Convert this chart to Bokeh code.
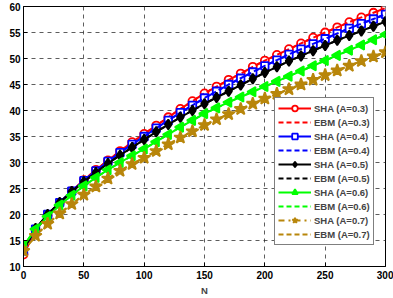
import math
from bokeh.plotting import figure
from bokeh.models import Legend, LegendItem, FixedTicker, Range1d
from bokeh.embed import file_html
from bokeh.resources import INLINE

# Number of users N (every 10 from 0 to 300)
n_vals = [0, 10, 20, 30, 40, 50, 60, 70, 80, 90, 100, 110, 120, 130, 140, 150,
          160, 170, 180, 190, 200, 210, 220, 230, 240, 250, 260, 270, 280, 290, 300]

sha_03 = [12.3, 17.0, 19.8, 22.2, 24.5, 26.6, 28.6, 30.4, 32.2, 33.9, 35.5,
          37.1, 38.7, 40.3, 41.8, 43.3, 44.6, 45.9, 47.1, 48.4, 49.6,
          50.7, 51.8, 52.9, 54.0, 55.0, 56.0, 57.0, 57.9, 58.8, 59.7]
sha_04 = [13.0, 17.2, 20.0, 22.3, 24.5, 26.5, 28.4, 30.2, 31.9, 33.5, 35.0,
          36.6, 38.1, 39.6, 41.0, 42.4, 43.7, 45.0, 46.2, 47.4, 48.6,
          49.7, 50.8, 51.8, 52.8, 53.8, 54.8, 55.8, 56.7, 57.6, 58.5]
sha_05 = [13.2, 17.3, 20.0, 22.3, 24.4, 26.3, 28.1, 29.8, 31.4, 32.9, 34.4,
          35.9, 37.3, 38.7, 40.0, 41.3, 42.5, 43.7, 44.9, 46.1, 47.3,
          48.4, 49.5, 50.5, 51.5, 52.5, 53.5, 54.4, 55.3, 56.2, 57.1]
sha_06 = [14.0, 17.2, 19.6, 21.8, 23.7, 25.5, 27.1, 28.6, 30.0, 31.3, 32.6,
          34.0, 35.4, 36.8, 38.1, 39.4, 40.5, 41.6, 42.6, 43.6, 44.6,
          45.6, 46.6, 47.6, 48.6, 49.6, 50.6, 51.6, 52.6, 53.6, 54.6]
sha_07 = [13.0, 15.9, 18.2, 20.2, 22.0, 23.8, 25.4, 26.9, 28.4, 29.7, 30.9,
          32.2, 33.5, 34.8, 36.0, 37.2, 38.3, 39.3, 40.3, 41.3, 42.3,
          43.2, 44.1, 45.0, 45.9, 46.8, 47.7, 48.6, 49.5, 50.4, 51.2]

ebm_03 = [12.3, 17.0, 19.8, 22.2, 24.5, 26.6, 28.6, 30.4, 32.2, 33.9, 35.5,
          37.1, 38.7, 40.3, 41.8, 43.3, 44.6, 45.9, 47.1, 48.4, 49.6,
          50.7, 51.8, 52.9, 54.0, 55.0, 56.0, 57.0, 57.9, 58.8, 59.7]
ebm_04 = [13.0, 17.2, 20.0, 22.3, 24.5, 26.5, 28.4, 30.2, 31.9, 33.5, 35.0,
          36.6, 38.1, 39.6, 41.0, 42.4, 43.7, 45.0, 46.2, 47.4, 48.6,
          49.7, 50.8, 51.8, 52.8, 53.8, 54.8, 55.8, 56.7, 57.6, 58.5]
ebm_05 = [13.2, 17.3, 20.0, 22.3, 24.4, 26.3, 28.1, 29.8, 31.4, 32.9, 34.4,
          35.9, 37.3, 38.7, 40.0, 41.3, 42.5, 43.7, 44.9, 46.1, 47.3,
          48.4, 49.5, 50.5, 51.5, 52.5, 53.5, 54.4, 55.3, 56.2, 57.1]
ebm_06 = [14.0, 17.2, 19.6, 21.8, 23.7, 25.5, 27.1, 28.6, 30.0, 31.3, 32.6,
          34.0, 35.4, 36.8, 38.1, 39.4, 40.5, 41.6, 42.6, 43.6, 44.6,
          45.6, 46.6, 47.6, 48.6, 49.6, 50.6, 51.6, 52.6, 53.6, 54.6]
ebm_07 = [13.0, 15.9, 18.2, 20.2, 22.0, 23.8, 25.4, 26.9, 28.4, 29.7, 30.9,
          32.2, 33.5, 34.8, 36.0, 37.2, 38.3, 39.3, 40.3, 41.3, 42.3,
          43.2, 44.1, 45.0, 45.9, 46.8, 47.7, 48.6, 49.5, 50.4, 51.2]

x_ticks = [0, 50, 100, 150, 200, 250, 300]
y_ticks = [10, 15, 20, 25, 30, 35, 40, 45, 50, 55, 60]

FONT = "Liberation Sans"

p = figure(width=393, height=298, output_backend="svg", toolbar_location=None,
           x_range=Range1d(0, 300), y_range=Range1d(10, 60),
           min_border_left=23, min_border_right=8, min_border_top=6,
           min_border_bottom=25)

p.outline_line_color = "black"
p.outline_line_width = 1

for ax in (p.xaxis[0], p.yaxis[0]):
    ax.major_label_text_font = FONT
    ax.major_label_text_font_style = "bold"
    ax.major_label_text_font_size = "10px"
    ax.major_label_text_color = "black"
    ax.axis_line_color = "black"
    ax.major_tick_in = 4
    ax.major_tick_out = 0
    ax.minor_tick_line_color = None
    ax.major_tick_line_color = "black"

p.xaxis.ticker = FixedTicker(ticks=x_ticks)
p.yaxis.ticker = FixedTicker(ticks=y_ticks)
p.xaxis.major_label_standoff = 4
p.yaxis.major_label_standoff = 3
p.xaxis.axis_label = "N"
p.xaxis.axis_label_text_font = FONT
p.xaxis.axis_label_text_font_style = "bold"
p.xaxis.axis_label_text_font_size = "9.5px"
p.xaxis.axis_label_standoff = 3

p.grid.grid_line_color = "#2a2a2a"
p.grid.grid_line_dash = "4 4"
p.grid.grid_line_width = 0.9
p.grid.grid_line_alpha = 0.85

BROWN = "#b8860b"
series = [
    ("SHA (A=0.3)", sha_03, "EBM (A=0.3)", ebm_03, "#ff0000", "circle", 8, 0, "solid", "white"),
    ("SHA (A=0.4)", sha_04, "EBM (A=0.4)", ebm_04, "#0000ff", "square", 7.5, 0, "solid", "white"),
    ("SHA (A=0.5)", sha_05, "EBM (A=0.5)", ebm_05, "#000000", "diamond", 10, 0, "solid", "#000000"),
    ("SHA (A=0.6)", sha_06, "EBM (A=0.6)", ebm_06, "#00ff00", "triangle", 9.5, math.pi / 2, "solid", "#00ff00"),
    ("SHA (A=0.7)", sha_07, "EBM (A=0.7)", ebm_07, BROWN, "star", 13, 0, "dashdot", BROWN),
]

items = []
for sha_name, sha_y, ebm_name, ebm_y, color, marker, size, angle, dash, fill in series:
    l1 = p.line(n_vals, sha_y, line_color=color, line_width=2, line_dash=dash)
    m1 = p.scatter(n_vals, sha_y, marker=marker, size=size, angle=angle,
                   line_color=color, fill_color=fill, line_width=1.8)
    l2 = p.line(n_vals, ebm_y, line_color=color, line_width=2, line_dash="5 3")
    items.append(LegendItem(label=sha_name, renderers=[l1, m1]))
    items.append(LegendItem(label=ebm_name, renderers=[l2]))

legend = Legend(items=items, location=(251, 21))
legend.label_text_font = FONT
legend.label_text_font_style = "bold"
legend.label_text_font_size = "9.5px"
legend.label_height = 14
legend.glyph_height = 14
legend.glyph_width = 33
legend.label_standoff = 3
legend.spacing = 0
legend.padding = 3
legend.margin = 0
legend.border_line_color = "black"
legend.border_line_width = 1
legend.background_fill_color = "white"
legend.background_fill_alpha = 1
p.add_layout(legend, "center")

open("out.html", "w").write(file_html(p, INLINE))
